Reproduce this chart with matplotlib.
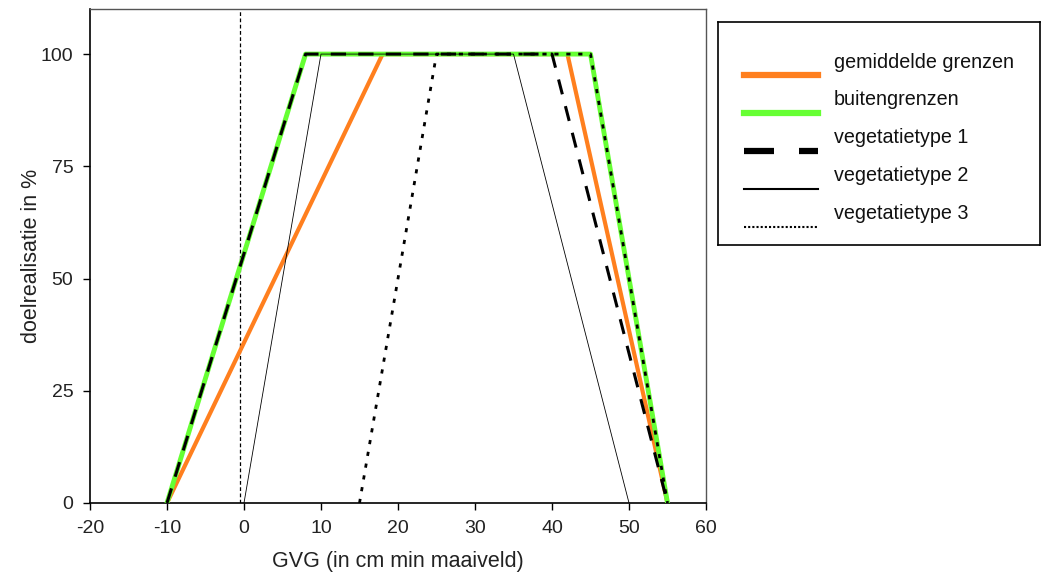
import matplotlib
matplotlib.use("Agg")
import matplotlib.pyplot as plt
from matplotlib.lines import Line2D

plt.rcParams['font.family'] = ['Liberation Sans', 'DejaVu Sans']
plt.rcParams['axes.unicode_minus'] = False

# data: GVG (cm min maaiveld) breakpoints and doelrealisatie (%)
realisatie = [0, 100, 100, 0]
gvg_gemiddeld = [-10, 18, 42, 55]
gvg_buiten = [-10, 8, 45, 55]
gvg_veg1 = [-10, 8, 40, 55]
gvg_veg2 = [0, 10, 35, 50]
gvg_veg3 = [15, 25, 45, 55]
ref_lijn = -0.5

x_ticks = [-20, -10, 0, 10, 20, 30, 40, 50, 60]
y_ticks = [0, 25, 50, 75, 100]

labels = ["gemiddelde grenzen", "buitengrenzen", "vegetatietype 1",
          "vegetatietype 2", "vegetatietype 3"]

oranje = '#ff7f1e'
groen = '#66ff33'

fig = plt.figure(figsize=(10.5, 5.74), dpi=100)
ax = fig.add_axes([0.0857, 0.1237, 0.5867, 0.8603])

ax.axvline(ref_lijn, color='black', lw=0.9, ls=(0, (3, 2)), zorder=1)
ax.plot(gvg_gemiddeld, realisatie, color=oranje, lw=3, zorder=2)
ax.plot(gvg_buiten, realisatie, color=groen, lw=3.5, zorder=3)
ax.plot(gvg_veg1, realisatie, color='black', lw=2.2, ls=(0, (5, 4)), zorder=4)
ax.plot(gvg_veg2, realisatie, color='black', lw=0.6, zorder=5)
ax.plot(gvg_veg3, realisatie, color='black', lw=2, ls=(0, (1.5, 2.8)), zorder=6)

ax.set_xlim(-20, 60)
ax.set_ylim(0, 110)
ax.set_xticks(x_ticks)
ax.set_yticks(y_ticks)
ax.tick_params(direction='out', length=5, width=1, labelsize=14,
               labelcolor='#222222', pad=7)
ax.set_xlabel("GVG (in cm min maaiveld)", fontsize=15.5, color='#222222', labelpad=10)
ax.set_ylabel("doelrealisatie in %", fontsize=15.5, color='#222222', labelpad=-1)

for s in ['left', 'bottom']:
    ax.spines[s].set_linewidth(1.2)
for s in ['top', 'right']:
    ax.spines[s].set_color('#555555')
    ax.spines[s].set_linewidth(1)

# legend box drawn by hand (handles sit a bit lower than the texts)
lax = fig.add_axes([0.684, 0.573, 0.306, 0.389])
lax.set_xlim(0, 1)
lax.set_ylim(0, 1)
lax.set_xticks([])
lax.set_yticks([])
for s in lax.spines.values():
    s.set_linewidth(1.2)

stijlen = [
    dict(color=oranje, lw=4.5),
    dict(color=groen, lw=4.5),
    dict(color='black', lw=4.5, ls=(0, (4.8, 4))),
    dict(color='black', lw=1.5),
    dict(color='black', lw=1.5, ls=(0, (1, 1))),
]
rij_tekst = [0.82, 0.65, 0.48, 0.31, 0.14]
for label, st, yt in zip(labels, stijlen, rij_tekst):
    yh = yt - 0.06
    lax.add_line(Line2D([0.08, 0.31], [yh, yh], **st))
    lax.text(0.36, yt, label, fontsize=14.2, va='center', ha='left', color='#111111')

fig.savefig("out.png", dpi=100)
